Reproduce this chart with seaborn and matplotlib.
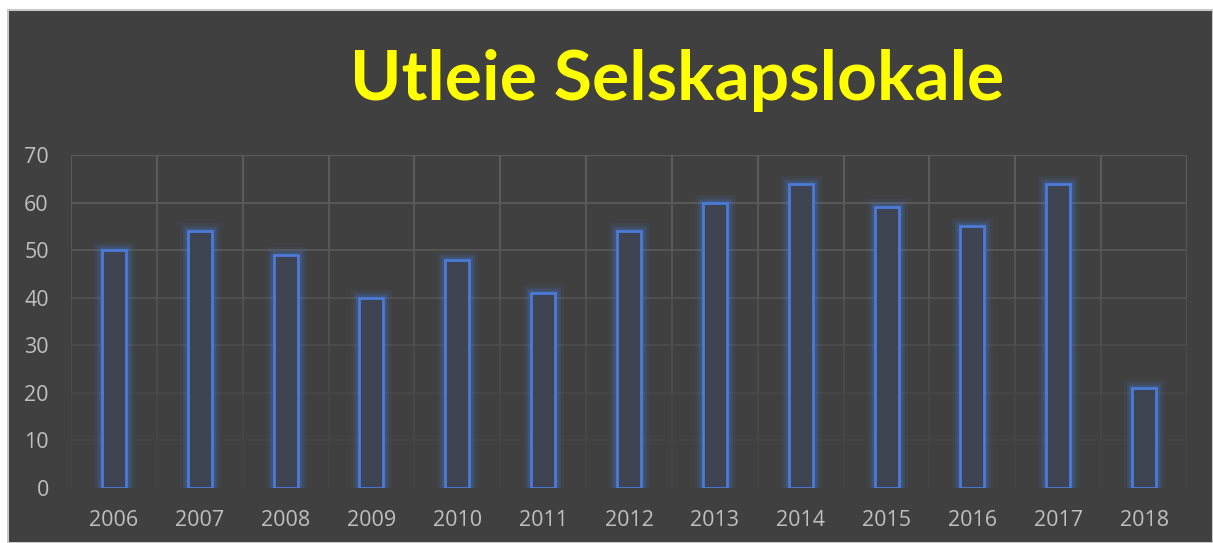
import matplotlib
matplotlib.use('Agg')
import matplotlib.pyplot as plt
import matplotlib.patheffects as pe
from matplotlib.patches import Rectangle
import numpy as np
import pandas as pd
import seaborn as sns

# Data
years = ['2006', '2007', '2008', '2009', '2010', '2011', '2012',
         '2013', '2014', '2015', '2016', '2017', '2018']
bookings = [50, 54, 49, 40, 48, 41, 54, 60, 64, 59, 55, 64, 21]
y_ticks = [0, 10, 20, 30, 40, 50, 60, 70]

BG = '#404040'
BLUE = '#4a7bd8'
TXT = '#bfbfbf'
# gridlines fade out towards the bottom of the plot (one colour per band 0-10 ... 60-70)
band_cols = ['#434343', '#464646', '#4a4a4a', '#4f4f4f', '#545454', '#585858', '#5b5b5b']

sns.set_theme(style='dark')
plt.rcParams['font.family'] = ['Open Sans', 'DejaVu Sans']

fig = plt.figure(figsize=(12.13, 5.43), dpi=100)
fig.patch.set_facecolor('white')
# dark chart area with thin light border (like the Excel chart frame)
fig.patches.append(Rectangle((8 / 1213, 0), 1 - 8 / 1213, 1 - 10 / 543,
                             transform=fig.transFigure, facecolor=BG,
                             edgecolor='#c8c8c8', linewidth=1.5, zorder=-10))

ax = fig.add_axes([71 / 1213, 1 - 488 / 543, (1187 - 71) / 1213, (488 - 155) / 543])
ax.set_facecolor(BG)

df = pd.DataFrame({'year': years, 'value': bookings})
sns.barplot(data=df, x='year', y='value', ax=ax, width=0.28,
            color='#3f4452', edgecolor=BLUE, linewidth=2, saturation=1)

# soft glow around the bar outlines
glow = [pe.Stroke(linewidth=12, foreground=BLUE, alpha=0.08),
        pe.Stroke(linewidth=8, foreground=BLUE, alpha=0.14),
        pe.Stroke(linewidth=5, foreground=BLUE, alpha=0.2),
        pe.Normal()]
for p in ax.patches:
    p.set_path_effects(glow)
    p.set_zorder(3)

ax.set_ylim(0, 70)
ax.set_xlim(-0.5, len(years) - 0.5)
ax.set_yticks(y_ticks)

# grid: horizontal every 10, vertical on category boundaries
for i, v in enumerate(y_ticks[1:]):
    ax.axhline(v, color=band_cols[i], linewidth=1.5, zorder=1)
bounds = np.arange(-0.5, len(years), 1.0)
for i in range(len(y_ticks) - 1):
    ax.vlines(bounds, y_ticks[i], y_ticks[i + 1], color=band_cols[i],
              linewidth=1.5, zorder=1)

for s in ax.spines.values():
    s.set_visible(False)

ax.set_xlabel('')
ax.set_ylabel('')
ax.tick_params(axis='x', colors=TXT, labelsize=15.5, length=0, pad=16)
ax.tick_params(axis='y', colors=TXT, labelsize=15.5, length=0, pad=16)

fig.text(677 / 1213, 1 - 80 / 543, 'Utleie Selskapslokale', color='#ffff00',
         fontsize=50, fontweight='bold', ha='center', va='center',
         family=['Lato', 'DejaVu Sans'])

fig.savefig('out.png', dpi=100, facecolor=fig.get_facecolor())
